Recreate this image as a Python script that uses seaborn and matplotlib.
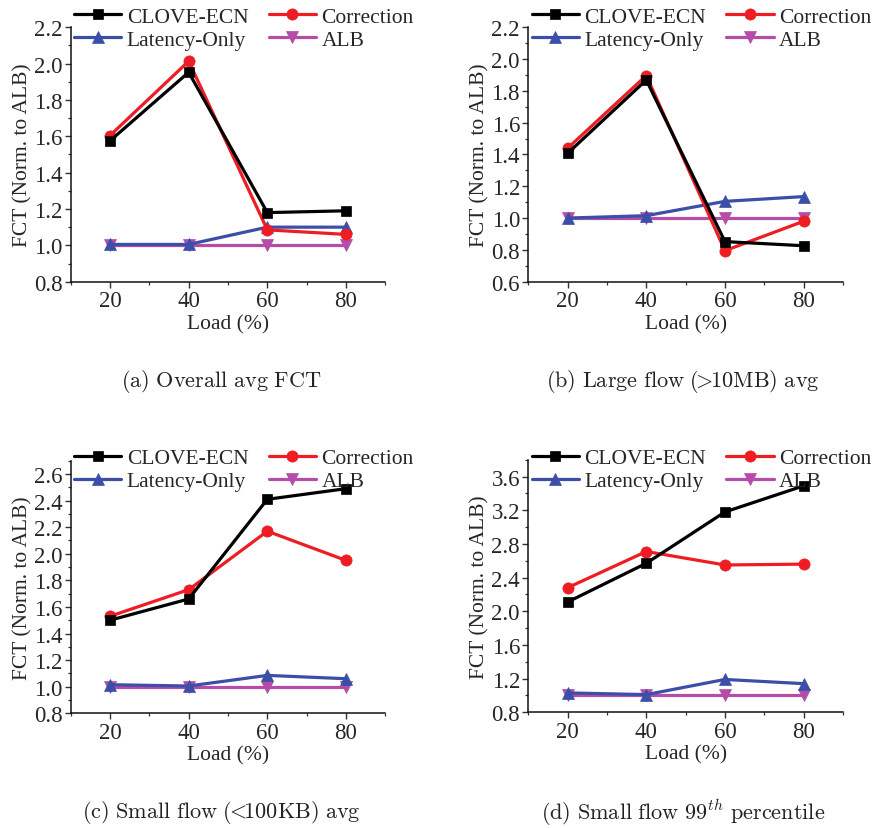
import numpy as np
import pandas as pd
import matplotlib
matplotlib.use("Agg")
import matplotlib.pyplot as plt
from matplotlib.ticker import MultipleLocator
import seaborn as sns

sns.set_theme(style="ticks")
plt.rcParams["font.family"] = ["Liberation Serif", "DejaVu Serif"]
plt.rcParams["mathtext.fontset"] = "cm"

loads = [20, 40, 60, 80]
schemes = ["CLOVE-ECN", "Correction", "Latency-Only", "ALB"]

# normalized FCT per panel, one list per scheme
overall_clove = [1.575, 1.952, 1.18, 1.19]
overall_corr = [1.604, 2.013, 1.085, 1.06]
overall_lat = [1.005, 1.005, 1.10, 1.10]
overall_alb = [1.0, 1.0, 1.0, 1.0]

large_clove = [1.407, 1.868, 0.852, 0.826]
large_corr = [1.439, 1.896, 0.795, 0.98]
large_lat = [1.0, 1.015, 1.105, 1.135]
large_alb = [1.0, 1.0, 1.0, 1.0]

small_clove = [1.50, 1.66, 2.41, 2.49]
small_corr = [1.53, 1.73, 2.17, 1.95]
small_lat = [1.015, 1.005, 1.085, 1.06]
small_alb = [1.0, 1.0, 1.0, 1.0]

tail_clove = [2.11, 2.57, 3.18, 3.49]
tail_corr = [2.28, 2.71, 2.55, 2.56]
tail_lat = [1.03, 1.01, 1.19, 1.14]
tail_alb = [1.0, 1.0, 1.0, 1.0]

captions = [
    r"$\mathrm{(a)\ Overall\ avg\ FCT}$",
    r"$\mathrm{(b)\ Large\ flow\ (\!\!>\!\!10MB)\ avg}$",
    r"$\mathrm{(c)\ Small\ flow\ (\!\!<\!\!100KB)\ avg}$",
    r"$\mathrm{(d)\ Small\ flow\ 99}^{th}\mathrm{\ percentile}$",
]

panels = [
    (overall_clove, overall_corr, overall_lat, overall_alb),
    (large_clove, large_corr, large_lat, large_alb),
    (small_clove, small_corr, small_lat, small_alb),
    (tail_clove, tail_corr, tail_lat, tail_alb),
]
ylims = [(0.8, 2.2), (0.6, 2.2), (0.8, 2.7), (0.8, 3.8)]
ymajor = [0.2, 0.2, 0.2, 0.4]

colors = {"CLOVE-ECN": "#000000", "Correction": "#EE1D23",
          "Latency-Only": "#3B4FA8", "ALB": "#B44CA8"}
markers = {"CLOVE-ECN": "s", "Correction": "o",
           "Latency-Only": "^", "ALB": "v"}
msizes = {"CLOVE-ECN": 8.5, "Correction": 9.5,
          "Latency-Only": 10, "ALB": 10}

fig = plt.figure(figsize=(8.79, 8.29), dpi=100)
positions = [
    [0.0804, 0.659, 0.358, 0.307],
    [0.601, 0.659, 0.358, 0.307],
    [0.0804, 0.1384, 0.358, 0.3046],
    [0.601, 0.1396, 0.358, 0.3046],
]
caption_xy = [(0.252, 0.540), (0.777, 0.540), (0.252, 0.020), (0.777, 0.020)]
legend_y = [1.006, 1.006, 0.4735, 0.4735]

# legend fills column by column; this gives rows CLOVE/Correction, Latency/ALB
legend_order = ["CLOVE-ECN", "Latency-Only", "Correction", "ALB"]

for i, (vals, pos) in enumerate(zip(panels, positions)):
    ax = fig.add_axes(pos)
    df = pd.DataFrame({
        "Load": loads * 4,
        "FCT": np.concatenate(vals),
        "Scheme": np.repeat(schemes, len(loads)),
    })
    # draw in reverse so CLOVE-ECN sits on top
    for s in schemes[::-1]:
        sub = df[df["Scheme"] == s]
        sns.lineplot(data=sub, x="Load", y="FCT", ax=ax, color=colors[s],
                     marker=markers[s], markersize=msizes[s],
                     markeredgecolor=colors[s], markeredgewidth=0.5,
                     linewidth=2.3, label=s, legend=False)
    ax.set_xlim(10, 90)
    ax.set_ylim(*ylims[i])
    ax.set_xticks(loads)
    ax.xaxis.set_minor_locator(MultipleLocator(10))
    ax.yaxis.set_major_locator(MultipleLocator(ymajor[i]))
    ax.yaxis.set_minor_locator(MultipleLocator(ymajor[i] / 2))
    ax.yaxis.set_major_formatter(plt.FuncFormatter(lambda v, p: f"{v:.1f}"))
    ax.tick_params(axis="both", which="major", direction="out", length=4,
                   width=1, labelsize=16.5, pad=2, color="#333333")
    ax.tick_params(axis="both", which="minor", direction="out", length=2.5,
                   width=0.9, color="#333333")
    for side in ("top", "right"):
        ax.spines[side].set_visible(False)
    for side in ("left", "bottom"):
        ax.spines[side].set_linewidth(1.1)
        ax.spines[side].set_color("#111111")
    ax.set_xlabel("Load (%)", fontsize=15.5, labelpad=2)
    ax.set_ylabel("FCT (Norm. to ALB)", fontsize=15.5, labelpad=1)

    handles, labels = ax.get_legend_handles_labels()
    hmap = dict(zip(labels, handles))
    handles = [hmap[s] for s in legend_order]
    for h in handles:
        h.set_markersize(h.get_markersize() * 0.85)
    fig.legend(handles, legend_order, ncol=2, frameon=False, fontsize=15.5,
               loc="upper left",
               bbox_to_anchor=(pos[0] - 0.011, legend_y[i]),
               handlelength=2.2, handletextpad=0.25,
               columnspacing=0.95, labelspacing=0.12,
               borderpad=0.1, numpoints=1)

    fig.text(caption_xy[i][0], caption_xy[i][1], captions[i],
             ha="center", va="center", fontsize=16, color="#222222")

fig.savefig("out.png", dpi=100)
